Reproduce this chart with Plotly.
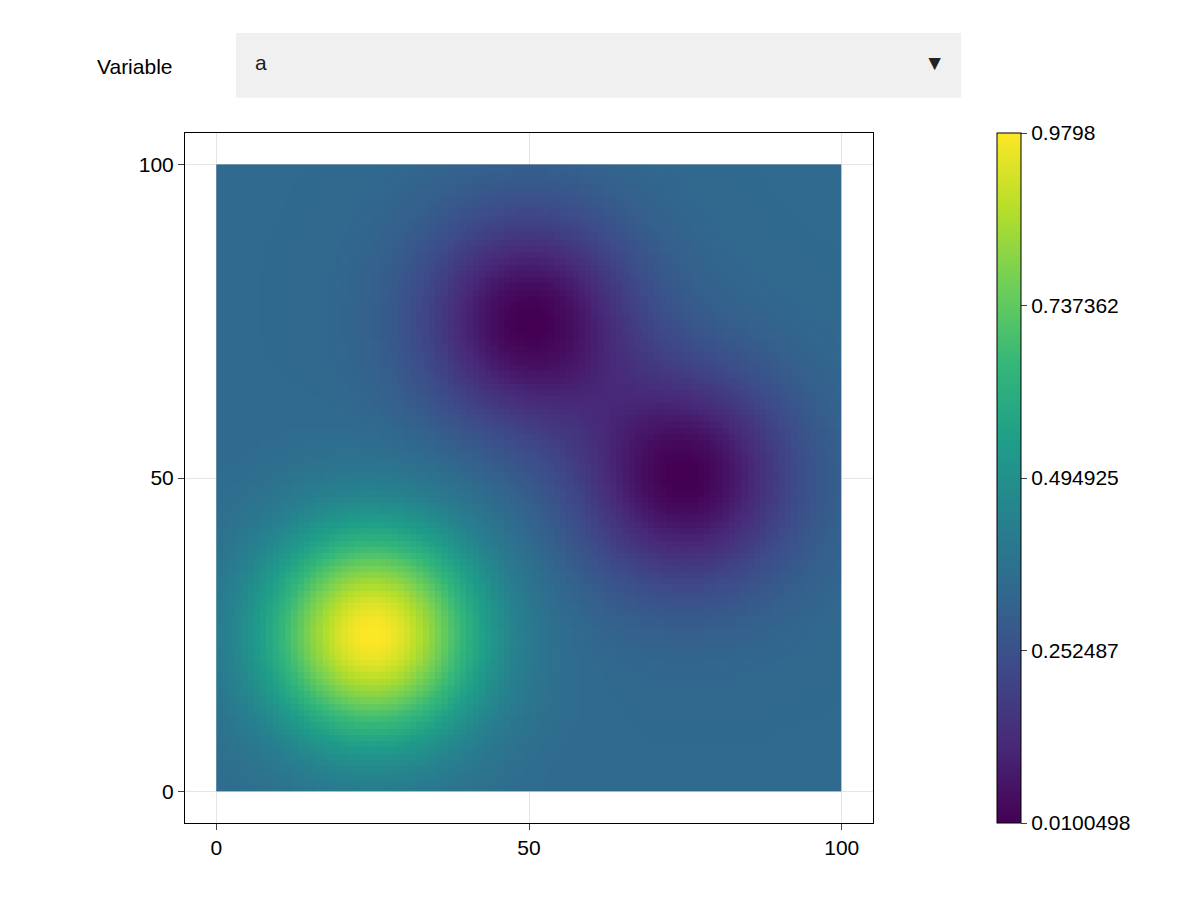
import numpy as np
import plotly.graph_objects as go

# Field description: background level and bumps (x, y, amplitude, sigma)
x_edges = list(range(0, 101))
y_edges = list(range(0, 101))
base_level = 0.34
bump_x = [25, 50, 75]
bump_y = [25, 75, 50]
bump_amp = [0.64, -0.33, -0.33]
bump_sigma = [12.0, 12.0, 12.0]
cbar_ticks = [0.0100498, 0.252487, 0.494925, 0.737362, 0.9798]
cbar_labels = ["0.0100498", "0.252487", "0.494925", "0.737362", "0.9798"]
axis_ticks = [0, 50, 100]

xc = np.array(x_edges[:-1], float) + 0.5
yc = np.array(y_edges[:-1], float) + 0.5
X, Y = np.meshgrid(xc, yc)
Z = np.full_like(X, base_level)
for bx, by, a, s in zip(bump_x, bump_y, bump_amp, bump_sigma):
    Z += a * np.exp(-((X - bx) ** 2 + (Y - by) ** 2) / (2 * s * s))

font = dict(family="Liberation Sans, Arial, sans-serif", size=21, color="black")
fig = go.Figure(go.Heatmap(
    x=x_edges, y=y_edges, z=Z, colorscale="Viridis",
    zmin=cbar_ticks[0], zmax=cbar_ticks[-1],
    colorbar=dict(x=1.18, xanchor="left", xpad=0, thickness=24, len=1, lenmode="fraction",
                  y=0, yanchor="bottom", ypad=0, outlinecolor="black", outlinewidth=1,
                  tickvals=cbar_ticks, ticktext=cbar_labels, ticks="outside",
                  ticklen=6, tickfont=font),
))
ax = dict(range=[-5, 105], tickvals=axis_ticks, showgrid=True, gridcolor="#e5e5e5",
          zeroline=False, showline=True, linecolor="black", mirror=True, ticks="outside",
          ticklen=6, tickfont=font)
fig.update_layout(
    width=1200, height=900, paper_bgcolor="white", plot_bgcolor="white",
    margin=dict(l=177, r=335, t=125, b=85),
    xaxis=ax, yaxis=ax, font=font,
    shapes=[dict(type="rect", xref="paper", yref="paper", x0=0.074, x1=1.128,
                 y0=1.051, y1=1.1449, fillcolor="#f0f0f0", line=dict(width=0), layer="below")],
    updatemenus=[dict(
        type="dropdown", x=0.085, xanchor="left", y=1.097, yanchor="middle",
        bgcolor="rgba(0,0,0,0)", bordercolor="rgba(0,0,0,0)", borderwidth=0,
        pad=dict(t=0, b=0, l=0, r=0), font=dict(family=font["family"], size=21, color="#222"),
        showactive=True,
        buttons=[dict(label="a" + "\u00a0" * 112, method="restyle", args=[{}])],
    )],
    annotations=[dict(text="Variable", x=-0.131, y=1.097, xref="paper", yref="paper",
                      xanchor="left", yanchor="middle", showarrow=False, font=font)],
)
fig.write_html("out.html")
